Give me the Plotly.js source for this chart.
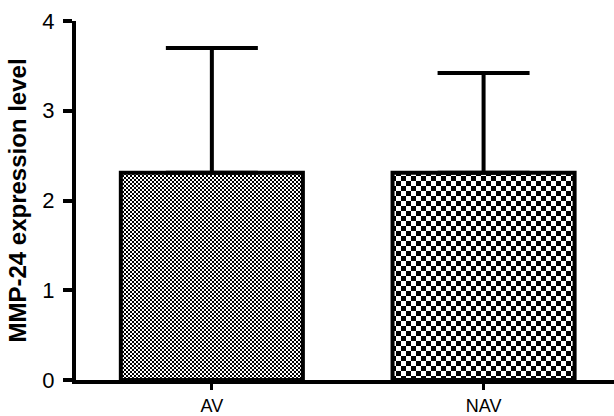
<!DOCTYPE html>
<html>
<head>
<meta charset="utf-8">
<script src="https://cdn.plot.ly/plotly-3.0.1.min.js"></script>
<style>html,body{margin:0;padding:0;background:#fff;}#chart{width:614px;height:416px;}</style>
</head>
<body>
<div id="chart"></div>
<script>
const categories = ["AV", "NAV"];
const means = [2.31, 2.31];
const errUpper = [1.39, 1.11];
const errLower = [0, 0];
const checkerSizes = [4, 10];

const trace = {
  type: "bar",
  x: categories,
  y: means,
  width: 0.67,
  marker: {
    color: "#ffffff",
    line: {color: "#000000", width: 4},
    pattern: {shape: ".", size: checkerSizes, solidity: 0.5, fgcolor: "#000000", bgcolor: "#ffffff", fillmode: "replace"}
  },
  error_y: {type: "data", symmetric: false, array: errUpper, arrayminus: errLower, color: "#000000", thickness: 4, width: 46},
  hoverinfo: "none"
};

const layout = {
  width: 614, height: 416,
  margin: {l: 76, r: 0, t: 21, b: 36, pad: 0},
  paper_bgcolor: "#ffffff", plot_bgcolor: "#ffffff",
  showlegend: false,
  font: {family: "Liberation Sans, Arial, sans-serif", color: "#000000"},
  xaxis: {
    range: [-0.5, 1.48], showgrid: false, zeroline: false,
    showline: true, linecolor: "#000000", linewidth: 4,
    ticks: "outside", ticklen: 6, tickwidth: 3, tickcolor: "#000000",
    tickfont: {size: 18}, ticklabelstandoff: 0
  },
  yaxis: {
    range: [0, 4], dtick: 1, showgrid: false, zeroline: false,
    showline: true, linecolor: "#000000", linewidth: 4,
    ticks: "outside", ticklen: 9, tickwidth: 4, tickcolor: "#000000",
    tickfont: {size: 22}, ticklabelstandoff: 4,
    title: {text: "<b>MMP-24 expression level</b>", font: {size: 24}, standoff: 10}
  }
};

Plotly.newPlot("chart", [trace], layout, {staticPlot: true}).then(function(gd) {
  // turn the dot patterns into checkerboards
  const NS = "http://www.w3.org/2000/svg";
  const paths = gd.querySelectorAll(".barlayer .point path");
  paths.forEach(function(p, i) {
    const f = p.style.fill || p.getAttribute("fill") || "";
    const m = f.match(/#([^"')]+)/);
    if (!m) return;
    const pat = document.getElementById(m[1]);
    if (!pat) return;
    const s = checkerSizes[i];
    const c = s / 2;
    pat.setAttribute("width", s);
    pat.setAttribute("height", s);
    while (pat.firstChild) pat.removeChild(pat.firstChild);
    const mk = function(x, y, w, h, col) {
      const r = document.createElementNS(NS, "rect");
      r.setAttribute("x", x); r.setAttribute("y", y);
      r.setAttribute("width", w); r.setAttribute("height", h);
      r.setAttribute("fill", col);
      pat.appendChild(r);
    };
    mk(0, 0, s, s, "#ffffff");
    mk(0, 0, c, c, "#000000");
    mk(c, c, c, c, "#000000");
  });
});
</script>
</body>
</html>
